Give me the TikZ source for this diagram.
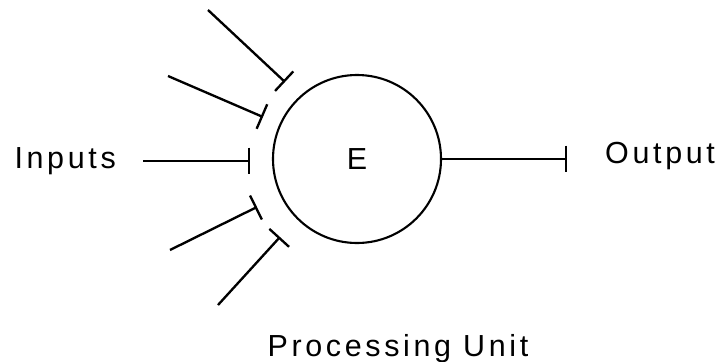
\documentclass[tikz,border=0pt]{standalone}
\usepackage{fontspec}
\setmainfont{Liberation Sans}[LetterSpace=12]
\usetikzlibrary{arrows.meta}

\begin{document}
\begin{tikzpicture}[x=0.03cm,y=-0.03cm,font=\fontsize{26}{30}\selectfont,
  wire/.style={line width=2pt,-{Bar[width=0.8cm,line width=2pt]}}]
\useasboundingbox (0,0) rectangle (723,362);
\node[draw,circle,line width=1.8pt,minimum size=5.04cm,inner sep=0pt] (unit) at (357,159) {E};
\coordinate (inAs) at (208,10);
\coordinate (inAe) at (285,82);
\coordinate (inBs) at (168,76);
\coordinate (inBe) at (263,117);
\coordinate (inCs) at (143,161);
\coordinate (inCe) at (250,161);
\coordinate (inDs) at (170,250);
\coordinate (inDe) at (257,207);
\coordinate (inEs) at (218,305);
\coordinate (inEe) at (280,237);
\coordinate (oute) at (567,159);
\draw[wire] (inAs) -- (inAe);
\draw[wire] (inBs) -- (inBe);
\draw[wire] (inCs) -- (inCe);
\draw[wire] (inDs) -- (inDe);
\draw[wire] (inEs) -- (inEe);
\draw[wire] (unit.east) -- (oute);
\node[anchor=east,inner sep=0pt] (inputs) at (116,161) {Inputs};
\node[anchor=west,inner sep=0pt] (output) at (605,156) {Output};
\node[anchor=base,inner sep=0pt] (caption) at (398,356) {Processing Unit};
\end{tikzpicture}
\end{document}
